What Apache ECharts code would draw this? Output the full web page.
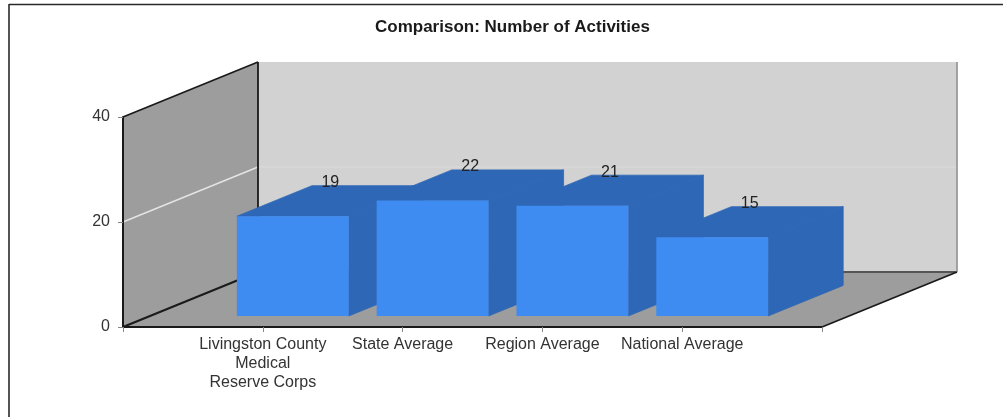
<!DOCTYPE html>
<html><head><meta charset="utf-8">
<style>html,body{margin:0;padding:0;background:#fff}#c{width:1003px;height:417px}</style>
<script src="https://cdn.jsdelivr.net/npm/echarts@6/dist/echarts.min.js"></script>
</head><body><div id="c"></div>
<script>
const titleText = 'Comparison: Number of Activities';
const categories = ['', 'Livingston County\nMedical\nReserve Corps', 'State Average', 'Region Average', 'National Average', ''];
const barPositions = [1, 2, 3, 4];
const values = [19, 22, 21, 15];
const yTicks = [0, 20, 40];
const yMin = 0, yMax = 40, yInterval = 20;

const DX = 135, DY = -55;
const Z_FRONT = 0.2, Z_BACK = 0.756, BAR_FRACTION = 0.8, BAR_NUDGE = 3;
const FONT = '"Liberation Sans", Arial, sans-serif';
const BAR_DARK = '#2e67b5', BAR_FACE = '#3e8bf2';

const chart = echarts.init(document.getElementById('c'), null, {renderer: 'canvas'});
const shift = (p, z) => [p[0] + DX * z, p[1] + DY * z];
const poly = (points, style, z2) => ({type: 'polygon', silent: true, z2: z2 || 0, shape: {points}, style});
const line = (a, b, stroke, lineWidth) => ({type: 'line', silent: true, shape: {x1: a[0], y1: a[1], x2: b[0], y2: b[1]}, style: {stroke, lineWidth}});

function renderWalls(params, api) {
  const lastX = categories.length - 1;
  const bl = api.coord([0, yMin]), tl = api.coord([0, yMax]), br = api.coord([lastX, yMin]), tr = api.coord([lastX, yMax]);
  const children = [
    poly([shift(bl, 1), shift(br, 1), shift(tr, 1), shift(tl, 1)], {fill: '#d2d2d2'}),
    poly([bl, shift(bl, 1), shift(tl, 1), tl], {fill: '#9d9d9d'}),
    poly([bl, br, shift(br, 1), shift(bl, 1)], {fill: '#9d9d9d'})
  ];
  yTicks.filter(t => t > yMin && t < yMax).forEach(t => {
    const a = api.coord([0, t]);
    children.push(line(a, shift(a, 1), '#e4e4e4', 1.4));
    children.push(line(shift(a, 1), shift(api.coord([lastX, t]), 1), '#dcdcdc', 1.2));
  });
  children.push(line(shift(bl, 1), shift(br, 1), '#555555', 1.8));
  children.push(line(shift(br, 1), shift(tr, 1), '#999999', 1.8));
  children.push(line(tl, shift(tl, 1), '#1a1a1a', 1.8));
  children.push(line(shift(bl, 1), shift(tl, 1), '#1a1a1a', 1.8));
  children.push(line(bl, shift(bl, 1), '#1a1a1a', 2));
  children.push(line(br, shift(br, 1), '#1a1a1a', 1.8));
  return {type: 'group', children};
}

function renderBar(params, api) {
  const idx = api.value(0), val = api.value(1);
  const w = api.size([1, 0])[0] * BAR_FRACTION;
  const base = api.coord([idx, yMin]), top = api.coord([idx, val]);
  const x0 = base[0] - w / 2 + BAR_NUDGE, x1 = base[0] + w / 2 + BAR_NUDGE;
  const fbl = shift([x0, base[1]], Z_FRONT), fbr = shift([x1, base[1]], Z_FRONT);
  const ftl = shift([x0, top[1]], Z_FRONT), ftr = shift([x1, top[1]], Z_FRONT);
  const bbr = shift([x1, base[1]], Z_BACK), btr = shift([x1, top[1]], Z_BACK), btl = shift([x0, top[1]], Z_BACK);
  const darkStyle = {fill: BAR_DARK, stroke: BAR_DARK, lineWidth: 0.8};
  return {type: 'group', children: [
    poly([ftl, ftr, btr, btl], darkStyle),
    poly([fbr, bbr, btr, ftr], darkStyle),
    poly([fbl, fbr, ftr, ftl], {fill: BAR_FACE}),
    {type: 'text', silent: true, z2: 50, style: {
      text: String(val), x: (ftl[0] + btr[0]) / 2, y: btr[1] - 3,
      align: 'center', verticalAlign: 'middle', fill: '#222222', font: '16px ' + FONT}}
  ]};
}

chart.setOption({
  animation: false,
  backgroundColor: '#ffffff',
  title: {text: titleText, left: 375, top: 19, padding: 0,
    textStyle: {fontFamily: FONT, fontSize: 17, fontWeight: 'bold', color: '#1a1a1a'}},
  grid: {left: 123, right: 181, top: 117, bottom: 90, containLabel: false},
  xAxis: {type: 'category', boundaryGap: false, data: categories, z: 5,
    axisLine: {lineStyle: {color: '#1a1a1a', width: 2}},
    axisTick: {show: true, length: 5, lineStyle: {color: '#888888'}, alignWithLabel: true, interval: 0},
    axisLabel: {interval: 0, margin: 8, color: '#333333', fontFamily: FONT, fontSize: 16, lineHeight: 19, hideOverlap: false},
    splitLine: {show: false}},
  yAxis: {type: 'value', min: yMin, max: yMax, interval: yInterval, z: 5,
    axisLine: {show: true, lineStyle: {color: '#1a1a1a', width: 2}},
    axisTick: {show: true, length: 5, lineStyle: {color: '#888888'}},
    axisLabel: {margin: 13, color: '#333333', fontFamily: FONT, fontSize: 16},
    splitLine: {show: false}},
  series: [
    {type: 'custom', silent: true, clip: false, z: 1, renderItem: renderWalls, data: [[0, 0]], encode: {x: 0, y: 1}},
    {type: 'custom', silent: true, clip: false, z: 3, renderItem: renderBar,
      data: barPositions.map((p, i) => [p, values[i]]), encode: {x: 0, y: 1}}
  ],
  graphic: {elements: [
    {type: 'line', silent: true, shape: {x1: 9, y1: 4.5, x2: 1003, y2: 4.5}, style: {stroke: '#2a2a2a', lineWidth: 1.6}},
    {type: 'line', silent: true, shape: {x1: 9, y1: 4, x2: 9, y2: 417}, style: {stroke: '#2a2a2a', lineWidth: 1.6}}
  ]}
});
</script></body></html>
